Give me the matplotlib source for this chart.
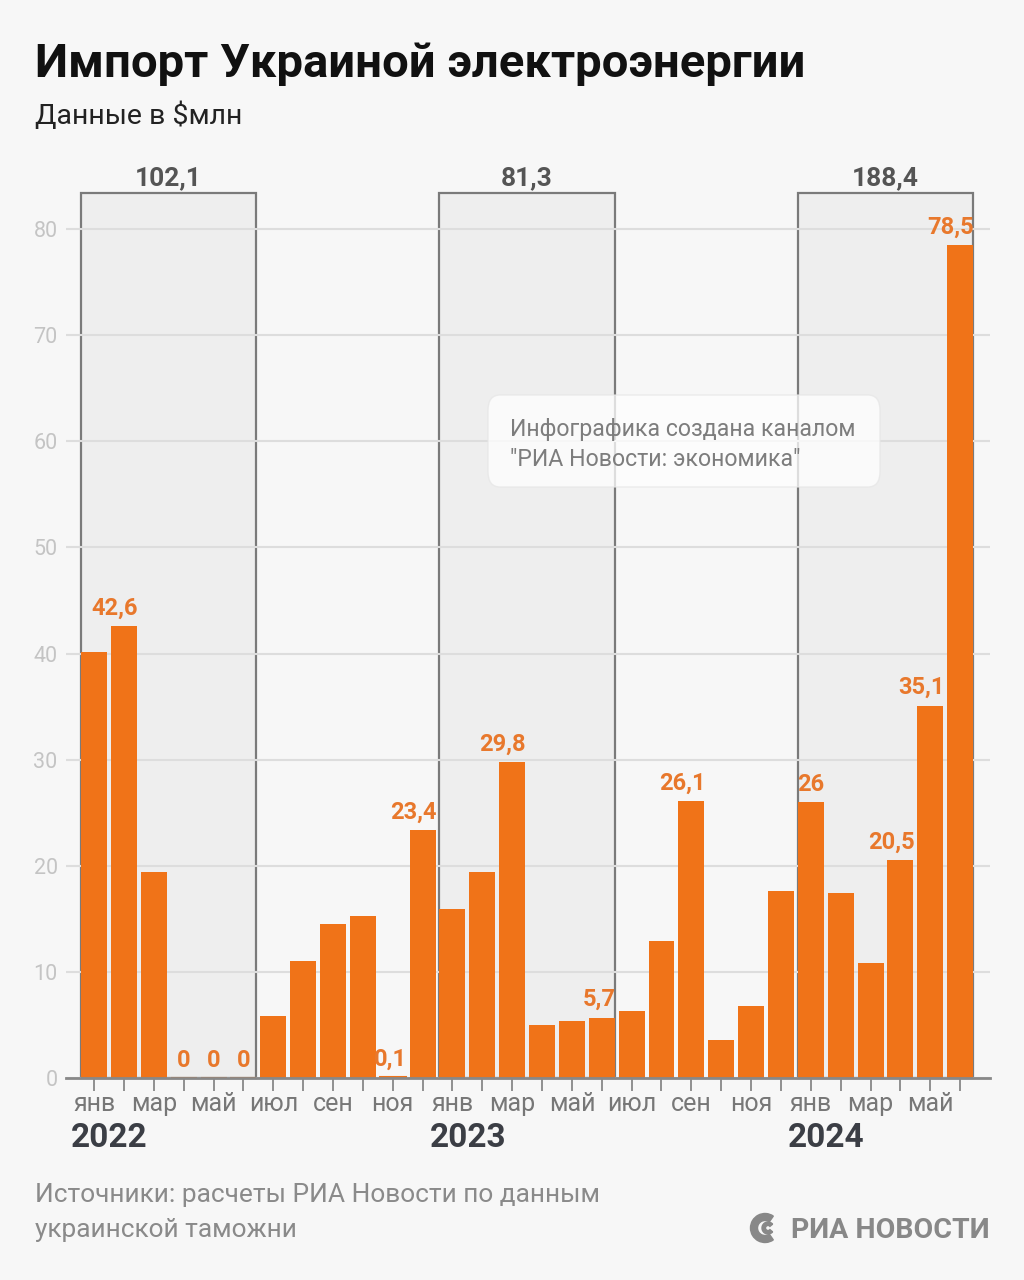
import matplotlib
matplotlib.use('Agg')
import matplotlib.pyplot as plt
from matplotlib.patches import Rectangle, FancyBboxPatch, Wedge
import numpy as np

plt.rcParams['font.family'] = ['Roboto', 'DejaVu Sans']

# данные, $ млн, янв 2022 - июн 2024
months = ['янв', 'фев', 'мар', 'апр', 'май', 'июн',
          'июл', 'авг', 'сен', 'окт', 'ноя', 'дек'] * 2 + ['янв', 'фев', 'мар', 'апр', 'май', 'июн']
values = [40.1, 42.6, 19.4, 0, 0, 0, 5.8, 11.0, 14.5, 15.3, 0.1, 23.4,
          15.9, 19.4, 29.8, 5.0, 5.4, 5.7, 6.3, 12.9, 26.1, 3.6, 6.8, 17.6,
          26.0, 17.4, 10.8, 20.5, 35.1, 78.5]
labels = {1: '42,6', 3: '0', 4: '0', 5: '0', 10: '0,1', 11: '23,4', 14: '29,8',
          17: '5,7', 20: '26,1', 24: '26', 27: '20,5', 28: '35,1', 29: '78,5'}
years = ['2022', '2023', '2024']
half_sums = ['102,1', '81,3', '188,4']   # сумма за первое полугодие

BG = '#f7f7f7'
ORANGE = '#f07318'
LABEL_ORANGE = '#e8782c'

fig = plt.figure(figsize=(10.24, 12.8), dpi=100, facecolor=BG)
ax = fig.add_axes([66 / 1024, 202 / 1280, 924 / 1024, (1078 - 186.6) / 1280])
ax.set_facecolor(BG)

x = np.arange(len(values))
vals = np.array(values)
bw = 0.87
ax.bar(x, vals, width=bw, color=ORANGE, zorder=3)
# нулевые месяцы видны тонкой линией
zero = vals < 0.5
ax.bar(x[zero], vals[zero], width=bw, color=ORANGE, edgecolor=ORANGE, lw=1.5, zorder=3)

# серые блоки первых полугодий
for k, (yr, s) in enumerate(zip(years, half_sums)):
    x0 = k * 12 - bw / 2
    x1 = k * 12 + 5 + bw / 2
    ax.add_patch(Rectangle((x0, 0), x1 - x0, 83.4, facecolor='#eeeeee',
                           edgecolor='#7a7a7a', lw=1.6, zorder=1, clip_on=False))
    ax.text((x0 + x1) / 2, 84.1, s, ha='center', va='baseline', fontsize=19,
            fontweight='bold', color='#555555', clip_on=False)
    ax.text(k * 12 - 0.77, -6.5, yr, ha='left', va='baseline', fontsize=24,
            fontweight='bold', color='#3b3e45', clip_on=False)

# подписи значений
for i, t in labels.items():
    if len(t) > 1:
        ax.text(i + bw / 2 + 0.03, values[i] + 0.6, t, ha='right', va='bottom',
                fontsize=17, fontweight='bold', color=LABEL_ORANGE, zorder=4)
    else:
        ax.text(i, values[i] + 0.6, t, ha='center', va='bottom',
                fontsize=17, fontweight='bold', color=LABEL_ORANGE, zorder=4)

ax.set_xlim(-0.94, 30.0)
ax.set_ylim(0, 84)
ax.set_yticks(range(0, 81, 10))
ax.set_yticklabels([str(v) for v in range(0, 81, 10)], fontsize=15.5, color='#c4c4c4')
ax.tick_params(axis='y', length=0, pad=6)
ax.grid(axis='y', color='#dddddd', lw=1.5, zorder=2)
ax.set_axisbelow(False)
for gl in ax.get_ygridlines():
    gl.set_zorder(2)

ax.set_xticks(x)
ax.set_xticklabels([m if i % 2 == 0 else '' for i, m in enumerate(months)],
                   fontsize=18, color='#777777')
ax.tick_params(axis='x', length=9, width=1.3, color='#888888', pad=1)

for sp in ['top', 'right', 'left']:
    ax.spines[sp].set_visible(False)
ax.spines['bottom'].set_color('#888888')
ax.spines['bottom'].set_linewidth(2)
ax.spines['bottom'].set_zorder(5)

# плашка
box = FancyBboxPatch((488 / 1024, 1 - 487 / 1280), 392 / 1024, 92 / 1280,
                     boxstyle='round,pad=0,rounding_size=0.012',
                     transform=fig.transFigure, facecolor='white', alpha=0.75,
                     edgecolor='#e6e6e6', lw=1, zorder=10)
fig.patches.append(box)
fig.text(510 / 1024, 1 - 436 / 1280, 'Инфографика создана каналом',
         fontsize=16.7, color='#7d7d7d', va='baseline', zorder=11)
fig.text(510 / 1024, 1 - 466 / 1280, '"РИА Новости: экономика"',
         fontsize=16.7, color='#7d7d7d', va='baseline', zorder=11)

# заголовки
fig.text(35 / 1024, 1 - 77 / 1280, 'Импорт Украиной электроэнергии',
         fontsize=34, fontweight='bold', color='#111111', va='baseline')
fig.text(35 / 1024, 1 - 124 / 1280, 'Данные в $млн',
         fontsize=20.5, color='#222222', va='baseline')

# источник
fig.text(35 / 1024, 1 - 1202 / 1280, 'Источники: расчеты РИА Новости по данным',
         fontsize=18.9, color='#8a8a8a', va='baseline')
fig.text(35 / 1024, 1 - 1237 / 1280, 'украинской таможни',
         fontsize=18.9, color='#8a8a8a', va='baseline')
fig.text(990 / 1024, 1 - 1238 / 1280, 'РИА НОВОСТИ', fontsize=20.5,
         fontweight='bold', color='#888888', ha='right', va='baseline')
# значок логотипа
lc = (7.65, (1280 - 1228) / 100)
fig.patches.append(Wedge(lc, 0.145, 55, 305, width=0.07,
                         transform=fig.dpi_scale_trans, color='#888888'))
fig.patches.append(Wedge((lc[0] + 0.03, lc[1]), 0.06, 40, 320, width=0.035,
                         transform=fig.dpi_scale_trans, color='#888888'))

fig.savefig('out.png', dpi=100, facecolor=BG)
